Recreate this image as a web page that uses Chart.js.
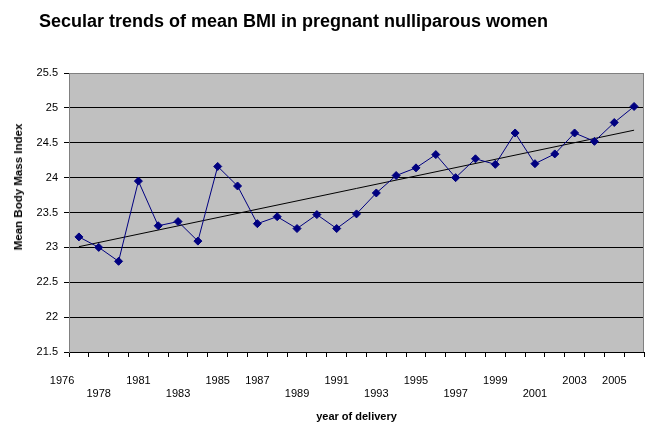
<!DOCTYPE html>
<html>
<head>
<meta charset="utf-8">
<script src="https://cdn.jsdelivr.net/npm/chart.js@4.4.1/dist/chart.umd.min.js"></script>
<style>
  body { margin: 0; background: #fff; }
  #wrap { position: relative; width: 645px; height: 426px; font-family: "Liberation Sans", Arial, sans-serif; }
  #title { position: absolute; left: 39px; top: 10px; line-height: 22px; font-size: 18px; font-weight: bold; color: #000; white-space: nowrap; }
  #ytitle { position: absolute; left: 18px; top: 187px; font-size: 11.5px; font-weight: bold; color: #000; white-space: nowrap;
            transform: translate(-50%, -50%) rotate(-90deg); }
</style>
</head>
<body>
<div id="wrap">
  <canvas id="bmiChart" width="645" height="426"></canvas>
  <div id="title">Secular trends of mean BMI in pregnant nulliparous women</div>
  <div id="ytitle">Mean Body Mass Index</div>
</div>
<script>
const years = ['1976', '1978', '1980', '1981', '1982', '1983', '1984', '1985', '1986', '1987',
  '1988', '1989', '1990', '1991', '1992', '1993', '1994', '1995', '1996', '1997',
  '1998', '1999', '2000', '2001', '2002', '2003', '2004', '2005', '2006'];
const bmi = [23.15, 23.0, 22.8, 23.95, 23.31, 23.37, 23.09, 24.16, 23.88, 23.34,
  23.44, 23.27, 23.47, 23.27, 23.48, 23.78, 24.03, 24.14, 24.33, 24.0,
  24.27, 24.19, 24.64, 24.2, 24.34, 24.64, 24.52, 24.79, 25.02];
// linear trend, start and end
const trendEnds = [23.01, 24.68];

const shownYears = ['1976', '1978', '1981', '1983', '1985', '1987', '1989', '1991',
  '1993', '1995', '1997', '1999', '2001', '2003', '2005'];
const lowerRow = ['1978', '1983', '1989', '1993', '1997', '2001'];

const yMin = 21.5, yMax = 25.5, yStep = 0.5;

Chart.defaults.font.family = "'Liberation Sans', Arial, sans-serif";
Chart.defaults.color = '#000';

const plotBackground = {
  id: 'plotBackground',
  beforeDraw(chart) {
    const { ctx, chartArea: a } = chart;
    ctx.save();
    ctx.fillStyle = '#c0c0c0';
    ctx.fillRect(a.left, a.top, a.right - a.left, a.bottom - a.top);
    ctx.restore();
  },
  beforeDatasetsDraw(chart) {
    const { ctx, chartArea: a } = chart;
    ctx.save();
    ctx.strokeStyle = '#808080';
    ctx.lineWidth = 1;
    ctx.beginPath();
    ctx.moveTo(a.right - 0.5, a.top);
    ctx.lineTo(a.right - 0.5, a.bottom);
    ctx.stroke();
    ctx.restore();
  }
};

const ctx = document.getElementById('bmiChart').getContext('2d');
new Chart(ctx, {
  type: 'line',
  data: {
    labels: years,
    datasets: [
      {
        label: 'Mean BMI',
        data: bmi,
        borderColor: '#000080',
        borderWidth: 1,
        pointStyle: 'rectRot',
        pointRadius: 4,
        pointBackgroundColor: '#000080',
        pointBorderColor: '#000080',
        pointBorderWidth: 1,
        tension: 0
      },
      {
        label: 'Linear trend',
        data: [
          { x: years[0], y: trendEnds[0] },
          { x: years[years.length - 1], y: trendEnds[1] }
        ],
        borderColor: '#000',
        borderWidth: 1,
        pointRadius: 0,
        tension: 0
      }
    ]
  },
  options: {
    responsive: false,
    animation: false,
    layout: { autoPadding: false, padding: { top: 73, left: 0, right: 1, bottom: 0 } },
    plugins: {
      legend: { display: false },
      tooltip: { enabled: false }
    },
    scales: {
      x: {
        type: 'category',
        offset: true,
        afterFit(scale) {
          scale.height = 74;
          scale.paddingLeft = 0;
          scale.paddingRight = 0;
        },
        grid: { offset: true, drawOnChartArea: false, drawTicks: true, tickLength: 5, color: '#000' },
        border: { color: '#000', width: 1 },
        ticks: {
          autoSkip: false,
          maxRotation: 0,
          minRotation: 0,
          padding: 17,
          font: { size: 11, lineHeight: 1.2 },
          callback(value, index) {
            const y = years[index];
            if (!shownYears.includes(y)) return '';
            // first label sits left of its category in the original
            if (index === 0) return y + ' '.repeat(11);
            return lowerRow.includes(y) ? ['', y] : y;
          }
        },
        title: {
          display: true,
          text: 'year of delivery',
          font: { size: 11, weight: 'bold', lineHeight: 1.2 },
          padding: { top: 0, bottom: 2 }
        }
      },
      y: {
        min: yMin,
        max: yMax,
        afterFit(scale) { scale.width = 69; },
        grid: {
          color: (c) => (c.tick && c.tick.value === yMax ? '#808080' : '#000'),
          tickColor: '#000',
          tickLength: 5
        },
        border: { color: '#808080', width: 1 },
        ticks: {
          stepSize: yStep,
          padding: 6,
          font: { size: 11 },
          callback: (v) => String(v)
        }
      }
    }
  },
  plugins: [plotBackground]
});
</script>
</body>
</html>
